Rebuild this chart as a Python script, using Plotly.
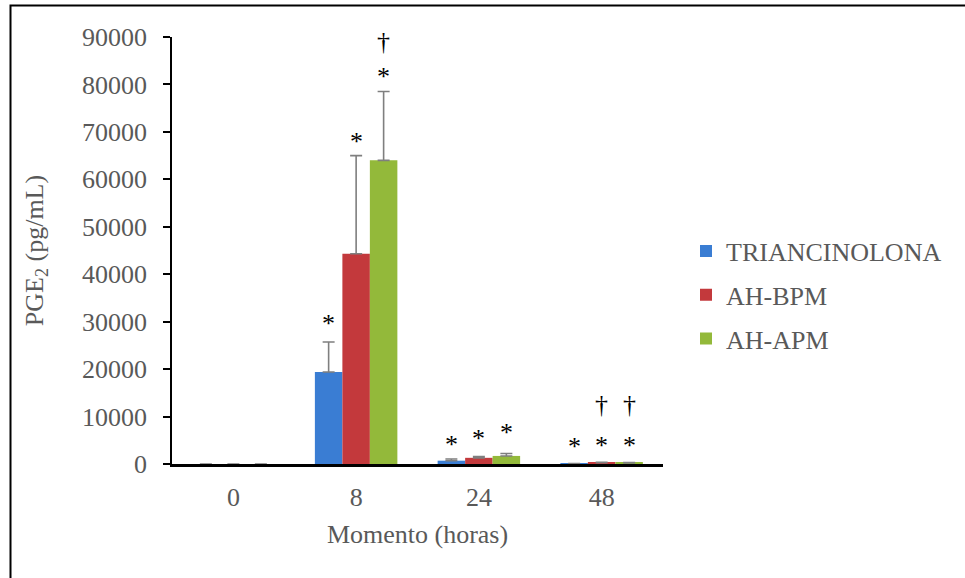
import plotly.graph_objects as go

# Sampling moments (hours) and PGE2 concentrations per treatment
momentos = ["0", "8", "24", "48"]
series_names = ["TRIANCINOLONA", "AH-BPM", "AH-APM"]
triancinolona = [0, 19400, 700, 60]
ah_bpm = [0, 44300, 1300, 300]
ah_apm = [0, 64000, 1700, 220]
err_triancinolona = [None, 6300, 350, 40]
err_ah_bpm = [None, 20700, 250, 80]
err_ah_apm = [None, 14500, 500, 60]

# Significance marks: category index, series index, symbol, y position
marks_cat = [1, 1, 1, 1, 2, 2, 2, 3, 3, 3, 3, 3]
marks_series = [0, 1, 2, 2, 0, 1, 2, 0, 1, 2, 1, 2]
marks_text = ["*", "*", "*", "†", "*", "*", "*", "*", "*", "*", "†", "†"]
marks_y = [29600, 67900, 81700, 89100, 4100, 5300, 6600, 3700, 3900, 3900, 12600, 12600]

values = [triancinolona, ah_bpm, ah_apm]
errors = [err_triancinolona, err_ah_bpm, err_ah_apm]
colors = ["#3a7dd3", "#c3393c", "#93b93a"]

SERIF = "Liberation Serif, Times New Roman, serif"
GRAY = "#595959"
FS = 26

W, H = 965, 578
L, R, T, B = 172, 302, 37, 114

fig = go.Figure()
for i, name in enumerate(series_names):
    fig.add_trace(go.Bar(
        x=momentos, y=values[i], name=name,
        legendgroup=name,
        marker=dict(color=colors[i], line=dict(width=0)),
        error_y=dict(type="data", array=errors[i], symmetric=False,
                     arrayminus=[0] * len(momentos),
                     color="#7f7f7f", thickness=1.6, width=6),
    ))

offset = 0.224
annotations = []
for c, s, t, y in zip(marks_cat, marks_series, marks_text, marks_y):
    annotations.append(dict(
        x=c + (s - 1) * offset, y=y, xref="x", yref="y", text=t,
        showarrow=False, font=dict(family=SERIF, size=26, color="#000000"),
        yanchor="middle", xanchor="center"))

pw, ph = W - L - R, H - T - B
def px_x(p):
    return (p - L) / pw
def px_y(p):
    return (H - B - p) / ph

shapes = [dict(type="rect", xref="paper", yref="paper",
               x0=px_x(10.5), x1=px_x(975), y0=px_y(590), y1=px_y(5.5),
               line=dict(color="#000000", width=2), fillcolor="rgba(0,0,0,0)",
               layer="above")]

fig.update_layout(
    width=W, height=H,
    margin=dict(l=L, r=R, t=T, b=B),
    paper_bgcolor="white", plot_bgcolor="white",
    barmode="group", bargap=0.328, bargroupgap=0,
    font=dict(family=SERIF, size=FS, color=GRAY),
    xaxis=dict(
        type="category", showgrid=False, zeroline=False,
        showline=True, linecolor="#000000", linewidth=2.5,
        ticks="", tickfont=dict(family=SERIF, size=FS, color=GRAY),
        ticklabelstandoff=8,
        title=dict(text="Momento (horas)", font=dict(family=SERIF, size=FS, color=GRAY), standoff=14),
    ),
    yaxis=dict(
        range=[0, 90000], dtick=10000, showgrid=False, zeroline=False,
        showline=True, linecolor="#000000", linewidth=1.5,
        ticks="outside", ticklen=7, tickcolor="#000000", tickwidth=1.5,
        tickformat="d", tickfont=dict(family=SERIF, size=FS, color=GRAY),
        ticklabelstandoff=11,
        title=dict(text="PGE<sub>2</sub> (pg/mL)", font=dict(family=SERIF, size=FS, color=GRAY), standoff=31),
    ),
    legend=dict(x=px_x(686), y=px_y(295), xanchor="left", yanchor="middle",
                font=dict(family=SERIF, size=FS, color=GRAY), tracegroupgap=7,
                itemwidth=30, bgcolor="rgba(0,0,0,0)"),
    showlegend=True,
    annotations=annotations,
    shapes=shapes,
)

fig.write_html("out.html")
